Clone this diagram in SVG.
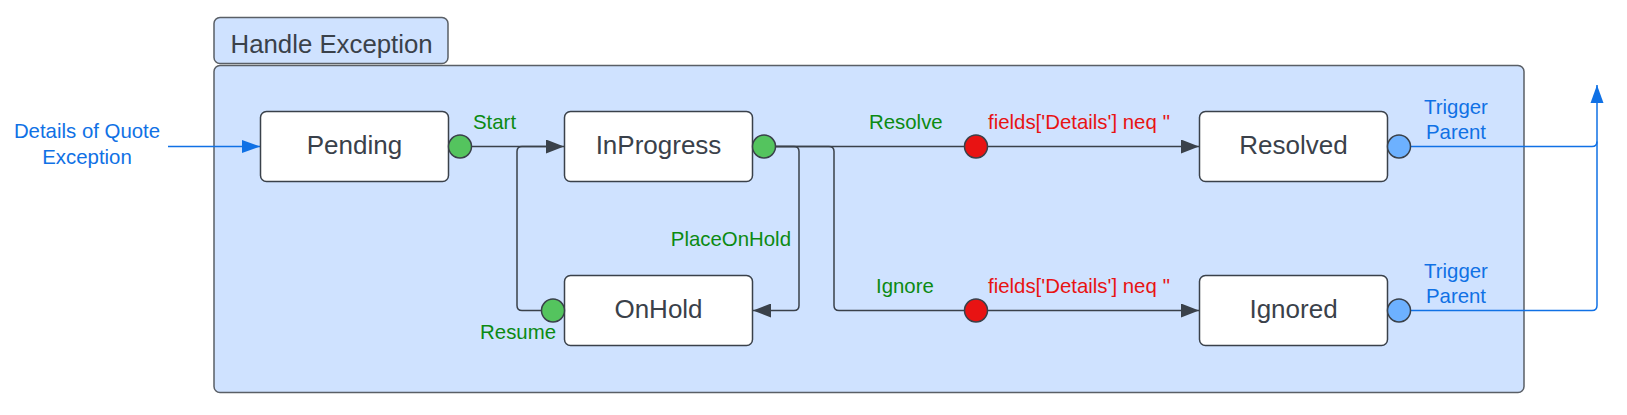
<svg xmlns="http://www.w3.org/2000/svg" width="1627" height="415" viewBox="0 0 1627 415">
<style>
.frame{fill:#cfe2ff;stroke:#5a5f66;stroke-width:1.5}
.node{fill:#ffffff;stroke:#3a414a;stroke-width:1.5}
.ntxt{font-family:"Liberation Sans",Arial,sans-serif;font-size:26px;fill:#3a414a;text-anchor:middle}
.htxt{font-family:"Liberation Sans",Arial,sans-serif;font-size:25.8px;fill:#3a414a}
.lbl{font-family:"Liberation Sans",Arial,sans-serif;font-size:20.4px}
.green{fill:#0b8a12}
.red{fill:#e81313}
.blue{fill:#1071e5}
.cg{fill:#54c45e;stroke:#3a414a;stroke-width:1.5}
.cr{fill:#e81313;stroke:#3a414a;stroke-width:1.5}
.cb{fill:#6db1ff;stroke:#3a414a;stroke-width:1.5}
.con{fill:none;stroke:#3a414a;stroke-width:1.5}
.bcon{fill:none;stroke:#1071e5;stroke-width:1.5}
</style>
<defs>
<marker id="ah" markerWidth="18" markerHeight="14" refX="18" refY="7" orient="auto" markerUnits="userSpaceOnUse">
<path d="M0,0 L18,7 L0,14 Z" fill="#3a414a"/>
</marker>
<marker id="bh" markerWidth="18" markerHeight="14" refX="18" refY="7" orient="auto" markerUnits="userSpaceOnUse">
<path d="M0,0.5 L18,7 L0,13.5 Z" fill="#1071e5"/>
</marker>
</defs>

<g id="container">
<rect class="frame" x="214" y="17.5" width="234" height="46" rx="6"/>
<text class="htxt" x="230.5" y="52.5">Handle Exception</text>
<rect class="frame" x="214" y="65.5" width="1310" height="327" rx="6"/>
</g>

<g id="connectors">
<path class="bcon" d="M168,146.5 H260" marker-end="url(#bh)"/>
<path class="con" d="M471.5,146.5 H564" marker-end="url(#ah)"/>
<path class="con" d="M541.5,310.5 H522 Q517,310.5 517,305.5 V151.5 Q517,146.5 522,146.5 H546"/>
<path class="con" d="M775.5,146.5 H794 Q799,146.5 799,151.5 V305.5 Q799,310.5 794,310.5 H753" marker-end="url(#ah)"/>
<path class="con" d="M775.5,146.5 H964.5"/>
<path class="con" d="M987.5,146.5 H1199" marker-end="url(#ah)"/>
<path class="con" d="M775.5,146.5 H829 Q834,146.5 834,151.5 V305.5 Q834,310.5 839,310.5 H964.5"/>
<path class="con" d="M987.5,310.5 H1199" marker-end="url(#ah)"/>
<path class="bcon" d="M1410.5,146.5 H1592 Q1597,146.5 1597,141.5"/>
<path class="bcon" d="M1410.5,310.5 H1592 Q1597,310.5 1597,305.5 V85" marker-end="url(#bh)"/>
</g>

<g id="labels">
<text class="lbl blue" text-anchor="middle" x="87" y="137.5">Details of Quote</text>
<text class="lbl blue" text-anchor="middle" x="87" y="163.5">Exception</text>
<text class="lbl green" x="473" y="129">Start</text>
<text class="lbl green" text-anchor="end" x="556" y="339">Resume</text>
<text class="lbl green" text-anchor="end" x="791" y="246">PlaceOnHold</text>
<text class="lbl green" x="869" y="129">Resolve</text>
<text class="lbl green" x="876" y="293">Ignore</text>
<text class="lbl red" x="988" y="129">fields['Details'] neq ''</text>
<text class="lbl red" x="988" y="293">fields['Details'] neq ''</text>
<text class="lbl blue" text-anchor="middle" x="1456" y="114">Trigger</text>
<text class="lbl blue" text-anchor="middle" x="1456" y="139">Parent</text>
<text class="lbl blue" text-anchor="middle" x="1456" y="278">Trigger</text>
<text class="lbl blue" text-anchor="middle" x="1456" y="303">Parent</text>
</g>

<g id="node-pending">
<rect class="node" x="260.5" y="111.5" width="188" height="70" rx="6"/>
<text class="ntxt" x="354.5" y="154">Pending</text>
</g>
<g id="node-inprogress">
<rect class="node" x="564.5" y="111.5" width="188" height="70" rx="6"/>
<text class="ntxt" x="658.5" y="154">InProgress</text>
</g>
<g id="node-onhold">
<rect class="node" x="564.5" y="275.5" width="188" height="70" rx="6"/>
<text class="ntxt" x="658.5" y="318">OnHold</text>
</g>
<g id="node-resolved">
<rect class="node" x="1199.5" y="111.5" width="188" height="70" rx="6"/>
<text class="ntxt" x="1293.5" y="154">Resolved</text>
</g>
<g id="node-ignored">
<rect class="node" x="1199.5" y="275.5" width="188" height="70" rx="6"/>
<text class="ntxt" x="1293.5" y="318">Ignored</text>
</g>

<g id="ports">
<circle class="cg" cx="460" cy="146.5" r="11.5"/>
<circle class="cg" cx="764" cy="146.5" r="11.5"/>
<circle class="cg" cx="553" cy="310.5" r="11.5"/>
<circle class="cr" cx="976" cy="146.5" r="11.5"/>
<circle class="cr" cx="976" cy="310.5" r="11.5"/>
<circle class="cb" cx="1399" cy="146.5" r="11.5"/>
<circle class="cb" cx="1399" cy="310.5" r="11.5"/>
</g>
</svg>
